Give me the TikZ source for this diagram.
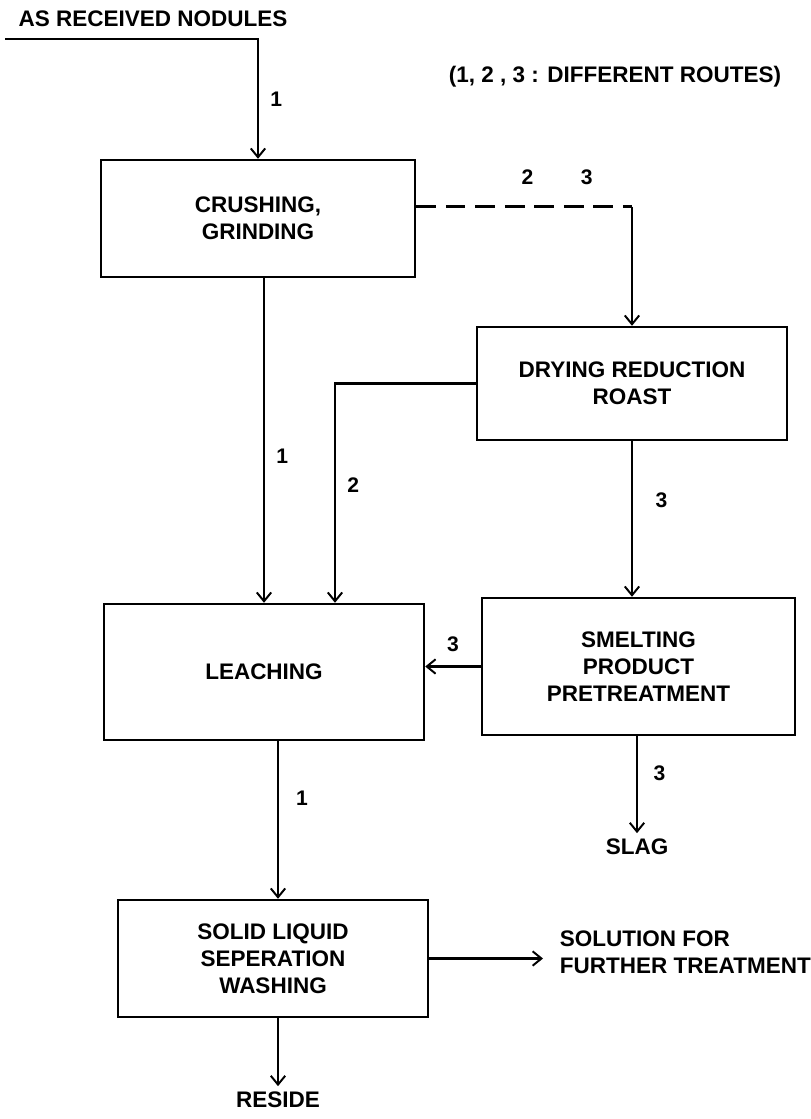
\documentclass[tikz,border=0pt]{standalone}
\usepackage{fontspec}
\setmainfont{Liberation Sans}
\usetikzlibrary{arrows.meta,positioning,calc}

\begin{document}
\begin{tikzpicture}[x=0.025cm, y=-0.025cm,
  every node/.style={font=\bfseries\fontsize{16}{19.2}\selectfont},
  box/.style={draw, line width=1.7pt, align=center, inner sep=2pt},
  ar/.style={-{Straight Barb[length=2.2mm,width=3.6mm,line width=1.4pt]}, line width=1.7pt},
  flow/.style={line width=1.7pt},
  lab/.style={font=\bfseries\fontsize{15}{18}\selectfont, inner sep=2pt},
  term/.style={inner sep=4pt}]
\useasboundingbox (0,0) rectangle (810,1119);

% process boxes
\node[box, minimum width=7.85cm, minimum height=2.925cm] (crush) at (258,218.5) {CRUSHING,\\GRINDING};
\node[box, minimum width=7.75cm, minimum height=2.825cm] (dry) at (632,383.5) {DRYING REDUCTION\\ROAST};
\node[box, minimum width=8cm, minimum height=3.4cm] (leach) at (264,672) {LEACHING};
\node[box, minimum width=7.825cm, minimum height=3.425cm] (smelt) at (638.5,666.5) {SMELTING\\PRODUCT\\PRETREATMENT};
\node[box, minimum width=7.75cm, minimum height=2.925cm] (solid) at (273,958.5) {SOLID LIQUID\\SEPERATION\\WASHING};

% feed, products and key
\node (feedlab) at (153,19) {AS RECEIVED NODULES};
\coordinate (feed) at (5,39);
\node (routes) at (615,77) {(1, 2 , 3 : DIFFERENT ROUTES)};
\node[term] (slag) at (637,847) {SLAG};
\node[term] (reside) at (278,1100) {RESIDE};
\node[anchor=west, align=left] (sol) at (555,952) {SOLUTION FOR\\FURTHER TREATMENT};

% connectors
\draw[ar] (feed) -| node[lab, pos=0.75, right=6pt] (l1a) {1} (crush.north);
\coordinate (dstart) at ($(crush.north east)!0.4!(crush.south east)$);
\coordinate (dturn) at (dry.north |- dstart);
\draw[flow, dash pattern=on 14pt off 7pt] (dstart) -- node[lab, pos=0.516, above=13pt] (l2a) {2}
  node[lab, pos=0.79, above=13pt] (l3a) {3} (dturn);
\draw[ar] (dturn) -- (dry.north);
\draw[ar] (crush.south -| leach.north) -- node[lab, pos=0.55, right=6pt] (l1b) {1} (leach.north);
\coordinate (r2x) at (335,0);
\draw[ar] (dry.west) -| node[lab, pos=0.732, right=6pt] (l2b) {2} (r2x |- leach.north);
\draw[ar] (dry.south) -- node[lab, pos=0.38, right=14pt] (l3b) {3} (dry.south |- smelt.north);
\draw[ar] (smelt.west) -- node[lab, above=8pt] (l3c) {3} (smelt.west -| leach.east);
\draw[ar] (smelt.south -| slag) -- node[lab, pos=0.38, right=9pt] (l3d) {3} (slag.north);
\draw[ar] (leach.south -| reside) -- node[lab, pos=0.36, right=10pt] (l1c) {1} (solid.north -| reside);
\coordinate (solin) at ([xshift=-0.3cm]sol.west);
\draw[ar] (solid.east) -- (solid.east -| solin);
\draw[ar] (solid.south -| reside) -- (reside.north);
\end{tikzpicture}
\end{document}
